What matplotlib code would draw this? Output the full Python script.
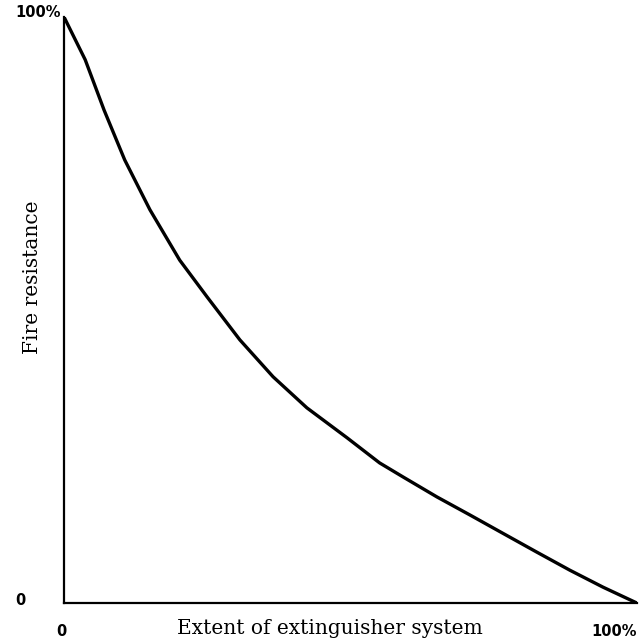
import matplotlib
matplotlib.use("Agg")
import matplotlib.pyplot as plt

# curve, in percent of both axes
extent = [0, 3.7, 7.0, 10.6, 15.0, 20.2, 25.0, 30.7, 36.5, 42.4,
          49.4, 55.1, 59.2, 65.1, 70.9, 76.6, 82.5, 88.3, 94.1, 100]
resistance = [100, 92.7, 84.1, 75.6, 67.1, 58.5, 52.2, 44.9, 38.6, 33.3,
              28.2, 23.9, 21.5, 18.1, 15.0, 11.9, 8.7, 5.6, 2.7, 0]

x_label = "Extent of extinguisher system"
y_label = "Fire resistance"
pct_label = "100%"
zero_label = "0"

fig = plt.figure(figsize=(6.4, 6.44), dpi=100)
ax = fig.add_axes([0.1, 0.0637, 0.895, 0.91])

ax.plot(extent, resistance, color="black", linewidth=2.4,
        solid_capstyle="round", solid_joinstyle="round")
ax.set_xlim(0, 100)
ax.set_ylim(0, 100)

for side in ("top", "right"):
    ax.spines[side].set_visible(False)
for side in ("left", "bottom"):
    ax.spines[side].set_linewidth(1.6)
ax.set_xticks([])
ax.set_yticks([])

# corner labels, typewriter-ish bold
corner = dict(fontsize=10.5, fontweight="bold", family="DejaVu Sans", clip_on=False)
ax.text(-0.5, 100.8, pct_label, ha="right", va="center", **corner)
ax.text(-6.8, 0.5, zero_label, ha="right", va="center", **corner)
ax.text(-0.5, -4.9, zero_label, ha="center", va="center", **corner)
ax.text(100, -4.9, pct_label, ha="right", va="center", **corner)

ax.text(46.5, -4.3, x_label, ha="center", va="center", fontsize=14.5,
        family="DejaVu Serif")
ax.text(-5.5, 55.5, y_label, ha="center", va="center", rotation=90,
        fontsize=14.5, family="DejaVu Serif")

fig.savefig("out.png", dpi=100)
